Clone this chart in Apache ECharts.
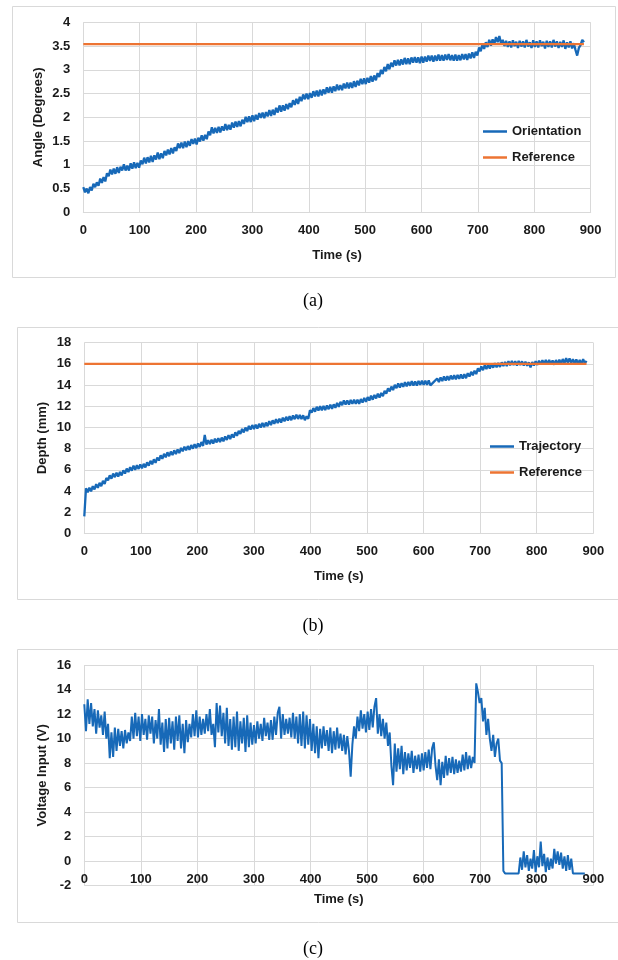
<!DOCTYPE html>
<html>
<head>
<meta charset="utf-8">
<script src="https://cdn.jsdelivr.net/npm/echarts@6/dist/echarts.min.js"></script>
<style>
html,body{margin:0;padding:0;background:#fff;}
#chart{width:618px;height:960px;}
</style>
</head>
<body>
<div id="chart"></div>
<script>
// ---------------- DATA ----------------
const sampleStep = 3; // seconds between consecutive samples (all three records)

// (a) orientation angle (degrees), one value per 3 s from t = 0 s
const orientation = [
0.53,0.42,0.50,0.40,0.53,0.46,0.60,0.53,0.63,0.56,
0.71,0.62,0.74,0.65,0.82,0.76,0.90,0.80,0.92,0.81,
0.95,0.83,0.96,0.88,1.01,0.88,0.98,0.88,1.03,0.92,
1.05,0.93,1.04,0.94,1.09,1.01,1.15,1.03,1.16,1.05,
1.19,1.06,1.20,1.11,1.26,1.12,1.24,1.14,1.29,1.20,
1.32,1.22,1.35,1.24,1.37,1.29,1.45,1.35,1.47,1.35,
1.49,1.37,1.50,1.40,1.54,1.44,1.55,1.43,1.57,1.49,
1.62,1.51,1.63,1.54,1.70,1.62,1.79,1.66,1.78,1.67,
1.80,1.68,1.81,1.72,1.86,1.73,1.84,1.74,1.89,1.78,
1.91,1.80,1.92,1.81,1.95,1.86,2.01,1.90,2.02,1.90,
2.04,1.92,2.05,1.95,2.09,1.99,2.10,1.98,2.11,2.02,
2.15,2.03,2.16,2.05,2.20,2.10,2.25,2.12,2.25,2.14,
2.28,2.17,2.30,2.21,2.36,2.26,2.39,2.28,2.43,2.34,
2.48,2.38,2.50,2.38,2.51,2.41,2.55,2.44,2.56,2.44,
2.58,2.46,2.59,2.49,2.63,2.52,2.64,2.52,2.65,2.55,
2.69,2.57,2.68,2.57,2.71,2.61,2.73,2.61,2.73,2.62,
2.76,2.64,2.77,2.67,2.81,2.70,2.82,2.70,2.83,2.73,
2.87,2.75,2.88,2.78,2.93,2.85,3.00,2.91,3.06,2.97,
3.12,3.01,3.15,3.06,3.20,3.09,3.21,3.09,3.22,3.11,
3.25,3.12,3.24,3.12,3.26,3.15,3.27,3.15,3.26,3.14,
3.28,3.15,3.28,3.17,3.30,3.19,3.30,3.17,3.30,3.19,
3.32,3.19,3.31,3.19,3.32,3.21,3.33,3.20,3.31,3.19,
3.32,3.19,3.31,3.20,3.33,3.22,3.33,3.21,3.34,3.24,
3.37,3.25,3.38,3.30,3.47,3.39,3.54,3.44,3.58,3.48,
3.63,3.51,3.64,3.54,3.69,3.58,3.71,3.55,3.63,3.50,
3.61,3.48,3.60,3.47,3.62,3.50,3.59,3.46,3.61,3.49,
3.60,3.47,3.63,3.49,3.58,3.46,3.62,3.48,3.60,3.47,
3.62,3.50,3.59,3.45,3.61,3.48,3.60,3.47,3.63,3.49,
3.60,3.46,3.59,3.48,3.62,3.44,3.58,3.47,3.60,3.45,
3.56,3.42,3.30,3.46,3.52,3.63,3.58
];
const orientationRefValue = 3.54;
const orientationRefTimes = [0, 888];

// (b) depth trajectory (mm), one value per 3 s from t = 0 s
const trajectory = [
1.60,4.25,3.88,4.30,3.96,4.45,4.15,4.64,4.30,4.76,
4.45,4.95,4.67,5.22,5.00,5.48,5.16,5.64,5.30,5.72,
5.36,5.80,5.46,5.95,5.64,6.12,5.78,6.24,5.92,6.38,
6.00,6.43,6.08,6.51,6.13,6.56,6.22,6.70,6.39,6.84,
6.52,6.98,6.66,7.16,6.87,7.36,7.03,7.50,7.18,7.65,
7.28,7.72,7.39,7.84,7.48,7.92,7.58,8.06,7.74,8.18,
7.83,8.24,7.88,8.33,7.99,8.42,8.05,8.48,8.15,8.62,
8.25,9.28,8.37,8.80,8.42,8.84,8.48,8.93,8.58,8.99,
8.62,9.04,8.68,9.15,8.82,9.27,8.90,9.35,9.04,9.54,
9.20,9.68,9.38,9.86,9.52,9.98,9.66,10.14,9.80,10.22,
9.85,10.26,9.89,10.34,9.99,10.42,10.04,10.46,10.12,10.59,
10.22,10.67,10.34,10.78,10.40,10.82,10.46,10.92,10.58,11.00,
10.64,11.05,10.68,11.13,10.78,11.20,10.80,11.18,10.78,11.14,
10.68,11.05,10.82,11.62,11.40,11.83,11.48,11.95,11.60,12.00,
11.62,12.02,11.64,12.08,11.72,12.15,11.76,12.18,11.85,12.32,
11.95,12.42,12.10,12.55,12.15,12.55,12.16,12.59,12.22,12.61,
12.22,12.61,12.23,12.68,12.34,12.79,12.42,12.86,12.53,12.99,
12.62,13.07,12.74,13.19,12.82,13.26,12.94,13.46,13.20,13.70,
13.40,13.86,13.53,14.02,13.70,14.15,13.77,14.18,13.83,14.28,
13.88,14.30,13.94,14.36,13.96,14.35,13.96,14.39,14.02,14.41,
14.02,14.41,14.02,14.45,13.97,13.95,14.30,14.17,14.62,14.28,
14.72,14.38,14.82,14.43,14.84,14.46,14.90,14.54,14.93,14.54,
14.95,14.59,15.01,14.61,15.02,14.65,15.12,14.80,15.25,14.92,
15.36,15.04,15.57,15.30,15.76,15.40,15.86,15.52,15.93,15.56,
15.99,15.64,16.07,15.68,16.08,15.71,16.15,15.79,16.19,15.80,
16.25,15.86,16.27,15.88,16.25,15.84,16.28,15.90,16.24,15.85,
16.20,15.82,16.15,15.66,16.18,15.84,16.26,15.90,16.30,15.93,
16.35,15.96,16.37,15.95,16.38,15.94,16.33,15.92,16.36,15.98,
16.40,16.00,16.46,16.05,16.55,16.10,16.52,16.08,16.45,16.02,
16.42,16.00,16.38,15.98,16.45,16.05,16.28
];
const depthRefValue = 16;
const depthRefTimes = [0, 888];

// (c) voltage input (V), one value per 3 s from t = 0 s
const voltage = [
12.8,10.6,13.2,11.2,12.9,11.0,12.4,10.4,12.3,10.9,
11.9,10.3,12.2,10.0,11.2,8.4,10.5,8.5,10.9,9.0,
10.8,9.4,10.6,9.2,10.7,9.6,10.5,9.8,11.8,10.0,
12.1,10.2,11.8,9.8,12.0,10.3,11.6,9.9,11.9,10.4,
11.8,9.6,11.5,10.0,12.4,9.5,11.3,8.9,11.6,9.2,
11.7,9.6,11.4,9.1,11.8,9.8,11.9,9.2,11.2,8.8,
11.5,9.7,11.2,10.1,12.0,10.2,12.3,10.1,11.8,10.3,
11.6,10.4,12.0,10.6,12.4,10.3,11.2,9.3,12.9,10.5,
12.7,10.2,12.1,9.6,12.5,9.4,11.6,9.1,11.8,9.3,
12.2,9.0,11.4,9.6,11.7,8.9,11.9,9.3,11.3,9.5,
11.1,9.6,11.4,10.0,11.2,9.8,11.7,10.2,11.3,9.9,
11.5,9.9,11.8,10.3,12.1,12.6,10.0,12.0,10.3,11.6,
10.4,11.7,10.1,12.1,10.0,11.8,9.6,12.0,9.4,12.2,
9.2,11.9,9.5,11.6,9.0,11.2,8.8,11.0,8.4,10.8,
9.2,11.0,9.4,10.7,9.0,10.9,8.8,10.6,9.1,10.9,
9.2,10.4,9.0,10.3,8.7,10.2,9.0,6.9,9.5,11.0,
10.0,11.8,10.6,12.3,10.8,12.0,10.5,12.2,10.7,12.4,
10.9,12.6,13.3,10.4,12.0,10.2,11.6,10.0,11.3,9.4,
10.5,7.8,6.2,9.6,7.3,9.2,7.5,9.4,7.1,8.9,
7.4,8.8,7.6,9.0,7.2,8.6,7.5,8.7,7.3,8.8,
7.4,8.9,7.6,9.1,7.5,9.2,9.7,7.8,6.6,8.3,
6.2,8.1,6.8,8.6,7.0,8.4,7.2,8.5,7.1,8.3,
7.2,8.2,7.3,8.7,7.4,8.9,7.5,8.6,7.6,8.5,
8.0,14.5,13.8,12.9,13.3,11.4,12.5,10.3,11.6,10.0,
9.0,10.3,8.5,9.6,10.0,8.2,8.0,-0.8,-1.0,-1.0,
-1.0,-1.0,-1.0,-1.0,-1.0,-1.0,-1.0,0.3,-0.7,0.8,
-0.5,0.5,-0.8,0.2,-0.6,0.9,-0.9,0.4,-0.5,1.6,
-0.4,0.6,-0.9,0.3,-0.7,0.2,-0.6,1.0,-0.2,0.8,
-0.3,0.7,-0.6,0.4,-0.8,0.5,-0.7,0.2,-1.0,-1.0,
-1.0,-1.0,-1.0,-1.0,-1.0,-1.0
];

const timeTicks = [0, 100, 200, 300, 400, 500, 600, 700, 800, 900];
const angleTicks = [0, 0.5, 1, 1.5, 2, 2.5, 3, 3.5, 4];
const depthTicks = [0, 2, 4, 6, 8, 10, 12, 14, 16, 18];
const voltageTicks = [-2, 0, 2, 4, 6, 8, 10, 12, 14, 16];

// ---------------- STYLE ----------------
const BLUE = '#1769b8';
const ORANGE = '#ed7433';
const GRID = '#d9d9d9';
const TXT = '#1a1a1a';
const FONT = '"Liberation Sans", Arial, sans-serif';

function toXY(values) { return values.map((v, i) => [i * sampleStep, v]); }
function refXY(times, v) { return times.map(t => [t, v]); }

const labelStyle = { color: TXT, fontFamily: FONT, fontWeight: 'bold', fontSize: 13 };

function xAxisFor(gridIndex, nameGap, offset) {
  return {
    type: 'value', gridIndex,
    min: timeTicks[0], max: timeTicks[timeTicks.length - 1],
    interval: timeTicks[1] - timeTicks[0],
    name: 'Time (s)', nameLocation: 'middle', nameGap,
    nameMoveOverlap: false,
    nameTextStyle: labelStyle,
    offset: offset,
    axisLine: { show: true, onZero: false, lineStyle: { color: GRID, width: 1 } },
    axisTick: { show: false },
    axisLabel: Object.assign({ margin: 12 }, labelStyle),
    splitLine: { show: true, lineStyle: { color: GRID, width: 1 } }
  };
}
function yAxisFor(gridIndex, ticks, name, nameGap) {
  return {
    type: 'value', gridIndex,
    min: ticks[0], max: ticks[ticks.length - 1], interval: ticks[1] - ticks[0],
    name, nameLocation: 'middle', nameGap, nameRotate: 90,
    nameMoveOverlap: false,
    nameTextStyle: labelStyle,
    axisLine: { show: false },
    axisTick: { show: false },
    axisLabel: Object.assign({ margin: 13 }, labelStyle),
    splitLine: { show: true, lineStyle: { color: GRID, width: 1 } }
  };
}
function lineSeries(name, xi, data, color, width, z) {
  return {
    name, type: 'line', xAxisIndex: xi, yAxisIndex: xi, data,
    symbol: 'none', showSymbol: false, smooth: false,
    lineStyle: { color, width }, itemStyle: { color },
    emphasis: { disabled: true }, z: z
  };
}
function legendItem(name, left, top) {
  return {
    left, top, padding: 0, orient: 'vertical', data: [name],
    icon: 'rect', itemWidth: 24, itemHeight: 2.5,
    textStyle: { color: TXT, fontFamily: FONT, fontWeight: 'bold', fontSize: 13 },
    selectedMode: false
  };
}

const chart = echarts.init(document.getElementById('chart'), null, { renderer: 'canvas' });
chart.setOption({
  animation: false,
  backgroundColor: '#fff',
  grid: [
    { left: 83.3, top: 22.3, width: 507.4, height: 190 },
    { left: 84.3, top: 342.7, width: 509, height: 190.6 },
    { left: 84.3, top: 665, width: 509, height: 220.7 }
  ],
  xAxis: [xAxisFor(0, 37, 0), xAxisFor(1, 37, 0), xAxisFor(2, 32, -24.5)],
  yAxis: [
    yAxisFor(0, angleTicks, 'Angle (Degrees)', 38),
    yAxisFor(1, depthTicks, 'Depth (mm)', 35),
    yAxisFor(2, voltageTicks, 'Voltage Input (V)', 35)
  ],
  legend: [
    legendItem('Orientation', 483, 125),
    legendItem('Reference', 483, 151),
    legendItem('Trajectory', 490, 440),
    legendItem('Reference', 490, 466)
  ],
  series: [
    lineSeries('Orientation', 0, toXY(orientation), BLUE, 2.3, 3),
    lineSeries('Reference', 0, refXY(orientationRefTimes, orientationRefValue), ORANGE, 2.2, 5),
    lineSeries('Trajectory', 1, toXY(trajectory), BLUE, 2.3, 3),
    lineSeries('Reference', 1, refXY(depthRefTimes, depthRefValue), ORANGE, 2.2, 5),
    lineSeries('Voltage', 2, toXY(voltage), BLUE, 2, 3)
  ],
  graphic: [
    { type: 'rect', shape: { x: 12.5, y: 6.5, width: 603, height: 271 }, style: { fill: 'none', stroke: GRID, lineWidth: 1 }, silent: true },
    { type: 'rect', shape: { x: 17.5, y: 327.5, width: 610, height: 272 }, style: { fill: 'none', stroke: GRID, lineWidth: 1 }, silent: true },
    { type: 'rect', shape: { x: 17.5, y: 649.5, width: 610, height: 273 }, style: { fill: 'none', stroke: GRID, lineWidth: 1 }, silent: true },
    { type: 'text', x: 313, y: 301, style: { text: '(a)', fill: '#000', font: '18px "Liberation Serif", "Times New Roman", serif', textAlign: 'center', textVerticalAlign: 'middle' }, silent: true },
    { type: 'text', x: 313, y: 626, style: { text: '(b)', fill: '#000', font: '18px "Liberation Serif", "Times New Roman", serif', textAlign: 'center', textVerticalAlign: 'middle' }, silent: true },
    { type: 'text', x: 313, y: 949, style: { text: '(c)', fill: '#000', font: '18px "Liberation Serif", "Times New Roman", serif', textAlign: 'center', textVerticalAlign: 'middle' }, silent: true }
  ]
});
</script>
</body>
</html>
